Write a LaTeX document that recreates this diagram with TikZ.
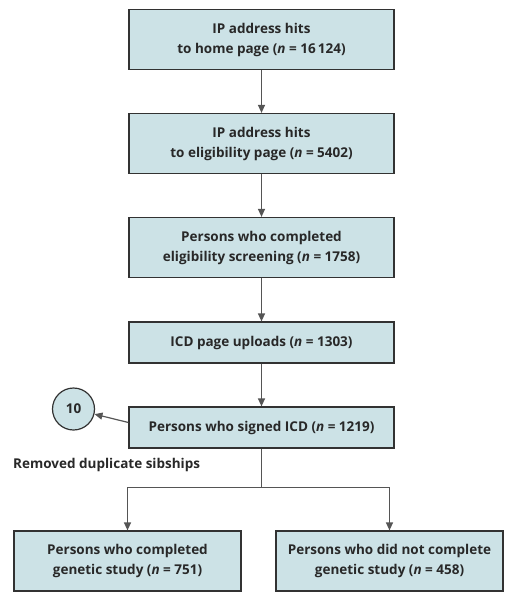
\documentclass[tikz,border=0pt]{standalone}
\usepackage{fontspec}
\setmainfont{Open Sans}
\usetikzlibrary{arrows.meta}
\definecolor{boxfill}{RGB}{204,226,230}
\definecolor{boxline}{RGB}{50,50,50}
\definecolor{arrowc}{RGB}{85,85,85}
\definecolor{txt}{RGB}{40,40,40}
\tikzset{
  flowbox/.style={draw=boxline, fill=boxfill, line width=1.2pt, minimum width=265pt,
    minimum height=60pt, align=center, text=txt, inner sep=0pt,
    font=\bfseries\fontsize{13.5}{20}\selectfont},
  smallbox/.style={flowbox, minimum height=41pt},
  botbox/.style={flowbox, minimum width=227pt},
  countcirc/.style={circle, draw=boxline, fill=boxfill, line width=1.2pt, minimum size=42pt,
    inner sep=0pt, text=txt, font=\bfseries\fontsize{13.5}{20}\selectfont},
  plainlabel/.style={anchor=west, text=txt, inner sep=0pt, font=\bfseries\fontsize{13.5}{20}\selectfont},
  conn/.style={draw=arrowc, line width=1.2pt, -{Triangle[width=7pt,length=8pt]}},
  link/.style={draw=arrowc, line width=1.2pt}
}
\begin{document}
\begin{tikzpicture}[x=1pt,y=1pt]
\useasboundingbox (0,0) rectangle (512,-600);
\node[flowbox] (b1) at (261.5,-39.5) {IP address hits\\to home page (\textit{n} = 16\,124)};
\node[flowbox] (b2) at (261.5,-143.5) {IP address hits\\to eligibility page (\textit{n} = 5402)};
\node[flowbox] (b3) at (261.5,-247.5) {Persons who completed\\eligibility screening (\textit{n} = 1758)};
\node[smallbox] (b4) at (261.5,-342.5) {ICD page uploads (\textit{n} = 1303)};
\node[smallbox] (b5) at (261.5,-427.5) {Persons who signed ICD (\textit{n} = 1219)};
\node[countcirc] (c10) at (73.5,-409) {10};
\node[plainlabel] (rm) at (13,-465) {Removed duplicate sibships};
\node[botbox] (b6) at (127.5,-561) {Persons who completed\\genetic study (\textit{n} = 751)};
\node[botbox] (b7) at (389.5,-561) {Persons who did not complete\\genetic study (\textit{n} = 458)};
\draw[conn] (b1) -- (b2);
\draw[conn] (b2) -- (b3);
\draw[conn] (b3) -- (b4);
\draw[conn] (b4) -- (b5);
\draw[conn] ([yshift=5pt]b5.west) -- (c10);
\draw[link] (b5.south) -- ++(0,-39) coordinate (split);
\draw[conn] (split) -| (b6.north);
\draw[conn] (split) -| (b7.north);
\end{tikzpicture}
\end{document}
